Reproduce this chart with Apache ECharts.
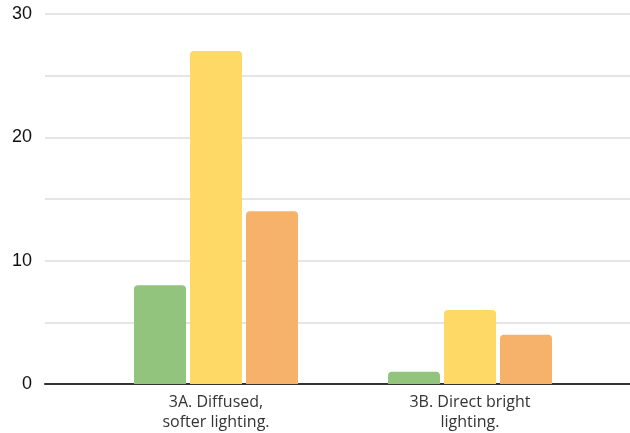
<!DOCTYPE html>
<html><head><meta charset="utf-8">
<script src="https://cdn.jsdelivr.net/npm/echarts@6/dist/echarts.min.js"></script>
<style>html,body{margin:0;padding:0;background:#fff}#c{width:630px;height:433px}</style>
</head><body><div id="c"></div>
<script>
const categories = ['3A. Diffused,\nsofter lighting.', '3B. Direct bright\nlighting.'];
const seriesA = [8, 1];
const seriesB = [27, 6];
const seriesC = [14, 4];
const yTicks = [0, 10, 20, 30];
const colors = ['#93c47d', '#ffd966', '#f6b26b'];

const chart = echarts.init(document.getElementById('c'));
const barCommon = {
  type: 'bar', xAxisIndex: 1, yAxisIndex: 1, barWidth: 52, barGap: '7.7%'
};
chart.setOption({
  animation: false,
  grid: [
    { left: 45, right: 0, top: 14, bottom: 49 },
    { left: 89, right: 33, top: 14, bottom: 49 }
  ],
  xAxis: [
    { type: 'category', gridIndex: 0, data: [''], axisLine: { show: true, lineStyle: { color: '#333', width: 2 } }, axisTick: { show: false }, axisLabel: { show: false } },
    { type: 'category', gridIndex: 1, data: categories, axisLine: { show: false }, axisTick: { show: false },
      axisLabel: { color: '#333', fontFamily: 'Open Sans', fontSize: 16, lineHeight: 20, margin: 8 } }
  ],
  yAxis: [
    { type: 'value', gridIndex: 0, min: 0, max: 30, interval: 5,
      axisLine: { show: false }, axisTick: { show: false },
      splitLine: { lineStyle: { color: '#dcdcdc', width: 1.5 } },
      axisLabel: { color: '#111', fontFamily: 'Liberation Sans', fontSize: 18, margin: 13,
        formatter: v => yTicks.includes(v) ? String(v) : '' } },
    { type: 'value', gridIndex: 1, min: 0, max: 30, show: false }
  ],
  series: [
    Object.assign({}, barCommon, { data: seriesA, itemStyle: { color: colors[0], borderRadius: [4, 4, 0, 0] } }),
    Object.assign({}, barCommon, { data: seriesB, itemStyle: { color: colors[1], borderRadius: [4, 4, 0, 0] } }),
    Object.assign({}, barCommon, { data: seriesC, itemStyle: { color: colors[2], borderRadius: [4, 4, 0, 0] } })
  ]
});
</script></body></html>
